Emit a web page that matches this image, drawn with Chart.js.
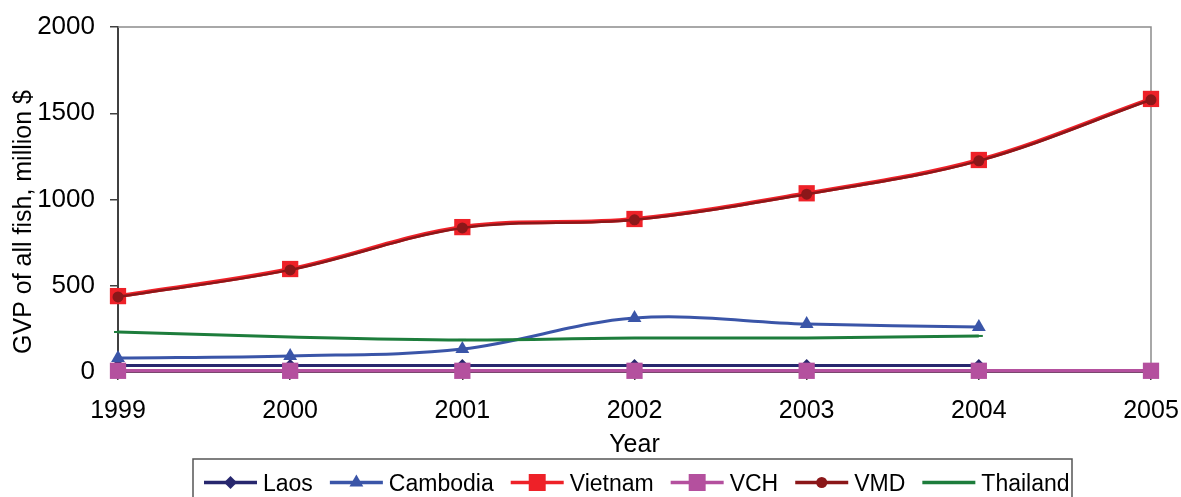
<!DOCTYPE html>
<html>
<head>
<meta charset="utf-8">
<script src="https://cdn.jsdelivr.net/npm/chart.js@4/dist/chart.umd.min.js"></script>
<style>
  html, body { margin: 0; padding: 0; background: #ffffff; }
  #wrap { width: 1181px; height: 497px; overflow: hidden; }
</style>
</head>
<body>
<div id="wrap"><canvas id="c" width="1181" height="497"></canvas></div>
<script>
// ---- data ----
const years = ['1999', '2000', '2001', '2002', '2003', '2004', '2005'];
const laos     = [37, 37, 37, 37, 37, 37];
const cambodia = [81, 93, 133, 313, 278, 261];
const vietnam  = [440, 597, 840, 887, 1036, 1229, 1583];
const vch      = [7, 7, 7, 7, 7, 7, 7];
const vmd      = [435, 592, 835, 882, 1031, 1224, 1578];
const thailand = [232, 203, 186, 197, 197, 209];
const yTicks   = [0, 500, 1000, 1500, 2000];
const xTitle = 'Year';
const yTitle = 'GVP of all fish, million $';

const FONT = "'Liberation Sans', Arial, sans-serif";

const series = [
  { label: 'Laos',     data: laos,     color: '#27276e', style: 'rectRot',  r: 6.5,  bw: 3 },
  { label: 'Cambodia', data: cambodia, color: '#3a55a8', style: 'triangle', r: 8,    bw: 3 },
  { label: 'Vietnam',  data: vietnam,  color: '#ee2128', style: 'rect',     r: 11.5, bw: 4 },
  { label: 'VCH',      data: vch,      color: '#b4509e', style: 'rect',     r: 11.5, bw: 3.5 },
  { label: 'VMD',      data: vmd,      color: '#8b1719', style: 'circle',   r: 5.5,  bw: 2.5 },
  { label: 'Thailand', data: thailand, color: '#1d7d3c', style: 'line',     r: 4,    bw: 3 }
];

const datasets = series.map((s, i) => ({
  label: s.label,
  data: s.data,
  order: series.length - 1 - i,
  borderColor: s.color,
  backgroundColor: s.color,
  borderWidth: s.bw,
  pointStyle: s.style,
  pointRadius: s.r,
  pointHoverRadius: s.r,
  pointBackgroundColor: s.color,
  pointBorderColor: s.color,
  pointBorderWidth: s.style === 'line' ? 2 : 0,
  tension: 0.35,
  fill: false,
  clip: false
}));

const framePlugin = {
  id: 'frame',
  beforeDatasetsDraw(chart) {
    const ctx = chart.ctx, a = chart.chartArea;
    ctx.save();
    ctx.strokeStyle = '#8c8c8c';
    ctx.lineWidth = 1.5;
    ctx.beginPath();
    ctx.moveTo(a.left, a.top);
    ctx.lineTo(a.right, a.top);
    ctx.lineTo(a.right, a.bottom);
    ctx.stroke();
    ctx.restore();
  },
  afterDraw(chart) {
    const ctx = chart.ctx;
    ctx.save();
    // y axis title (custom position, as in the reference)
    ctx.font = '25px ' + FONT;
    ctx.fillStyle = '#000';
    ctx.textAlign = 'center';
    ctx.textBaseline = 'middle';
    ctx.translate(24, 222);
    ctx.rotate(-Math.PI / 2);
    ctx.fillText(yTitle, 0, 0);
    ctx.restore();

    // legend box
    ctx.save();
    const boxL = 193, boxT = 459, boxR = 1072, boxB = 520;
    ctx.strokeStyle = '#555';
    ctx.lineWidth = 1.5;
    ctx.strokeRect(boxL, boxT, boxR - boxL, boxB - boxT);
    ctx.font = '23px ' + FONT;
    ctx.textBaseline = 'alphabetic';
    ctx.textAlign = 'left';
    const cy = 482.5;
    let x = 204;
    const lineLen = 53, gap = 6, spacing = 17;
    series.forEach((s) => {
      ctx.strokeStyle = s.color;
      ctx.lineWidth = 3.5;
      ctx.beginPath();
      ctx.moveTo(x, cy);
      ctx.lineTo(x + lineLen, cy);
      ctx.stroke();
      ctx.fillStyle = s.color;
      ctx.strokeStyle = s.color;
      ctx.lineWidth = s.style === 'line' ? 2 : 0.01;
      let r = s.r;
      if (s.style === 'rect') r = 12;
      Chart.helpers.drawPoint(ctx, { pointStyle: s.style, radius: r, borderWidth: ctx.lineWidth, rotation: 0 }, x + lineLen / 2, cy);
      ctx.fillStyle = '#000';
      const tx = x + lineLen + gap;
      ctx.fillText(s.label, tx, 491);
      x = tx + ctx.measureText(s.label).width + spacing;
    });
    ctx.restore();
  }
};

new Chart(document.getElementById('c'), {
  type: 'line',
  data: { labels: years, datasets },
  options: {
    responsive: false,
    animation: false,
    devicePixelRatio: 1,
    layout: { padding: { left: 0, top: 27, right: 30, bottom: 37 } },
    plugins: { legend: { display: false }, tooltip: { enabled: false } },
    scales: {
      x: {
        type: 'category',
        offset: false,
        grid: { display: true, drawOnChartArea: false, drawTicks: true, tickLength: 8, color: '#404040', lineWidth: 1.5 },
        border: { display: true, color: '#404040', width: 2 },
        ticks: { color: '#000', font: { family: FONT, size: 25 }, padding: 16, maxRotation: 0, autoSkip: false },
        title: { display: true, text: xTitle, color: '#000', font: { family: FONT, size: 25 }, padding: { top: 0, bottom: 0 } },
        afterFit(scale) { scale.height = 88; scale.paddingLeft = 0; scale.paddingRight = 0; }
      },
      y: {
        min: 0, max: 2000,
        afterBuildTicks(scale) { scale.ticks = yTicks.map(v => ({ value: v })); },
        grid: { display: true, drawOnChartArea: false, drawTicks: true, tickLength: 8, color: '#404040', lineWidth: 1.5 },
        border: { display: true, color: '#404040', width: 2 },
        ticks: { color: '#000', font: { family: FONT, size: 26 }, padding: 15, callback: (v) => String(v) },
        afterFit(scale) { scale.width = 118; scale.paddingTop = 0; scale.paddingBottom = 0; }
      }
    }
  },
  plugins: [framePlugin]
});
</script>
</body>
</html>
